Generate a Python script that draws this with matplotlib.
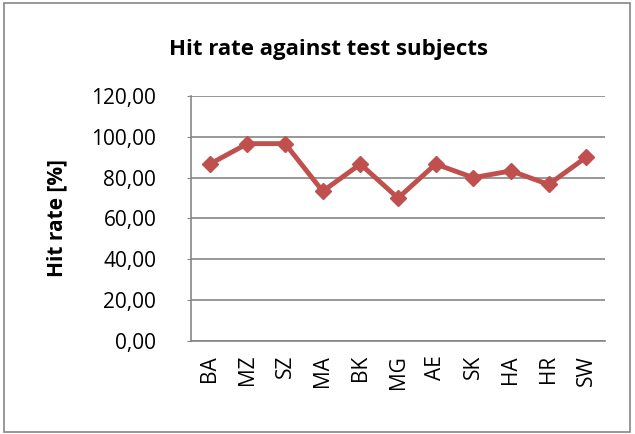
import matplotlib.pyplot as plt
from matplotlib.patches import Rectangle

# data
subjects = ["BA", "MZ", "SZ", "MA", "BK", "MG", "AE", "SK", "HA", "HR", "SW"]
hit_rate = [86.67, 96.67, 96.67, 73.33, 86.67, 70.00, 86.67, 80.00, 83.33, 76.67, 90.00]
y_ticks = [0, 20, 40, 60, 80, 100, 120]

plt.rcParams['font.family'] = ['Open Sans', 'DejaVu Sans']

fig = plt.figure(figsize=(6.35, 4.34), dpi=100)
ax = fig.add_axes([0.3008, 0.2143, 0.652, 0.5645])

x = list(range(len(subjects)))
ax.plot(x, hit_rate, color="#C0504D", linewidth=3.5, marker="D", markersize=8,
        markeredgewidth=1, markeredgecolor="#C0504D", markerfacecolor="#C0504D")

ax.set_xlim(-0.5, len(subjects) - 0.5)
ax.set_ylim(0, 120)
ax.set_yticks(y_ticks)
ax.set_yticklabels([f"{v:.2f}".replace(".", ",") for v in y_ticks], fontsize=15)
ax.set_xticks(x)
ax.set_xticklabels(subjects, rotation=90, fontsize=15)
ax.tick_params(axis="x", length=0, pad=10)
ax.tick_params(axis="y", length=3, color="#868686", pad=22)
ax.grid(axis="y", color="#868686", linewidth=1.2)
ax.set_axisbelow(True)

for side in ["top", "right"]:
    ax.spines[side].set_visible(False)
for side in ["left", "bottom"]:
    ax.spines[side].set_color("#868686")
    ax.spines[side].set_linewidth(1.2)

ax.set_ylabel("Hit rate [%]", fontsize=15, fontweight="bold", labelpad=17)
fig.text(0.517, 0.885, "Hit rate against test subjects", fontsize=16,
         fontweight="bold", ha="center", va="center")

# outer chart border
fig.patches.append(Rectangle((0.007, 0.005), 0.985, 0.988, transform=fig.transFigure,
                             fill=False, edgecolor="#868686", linewidth=1.2))

fig.savefig("out.png", dpi=100)
